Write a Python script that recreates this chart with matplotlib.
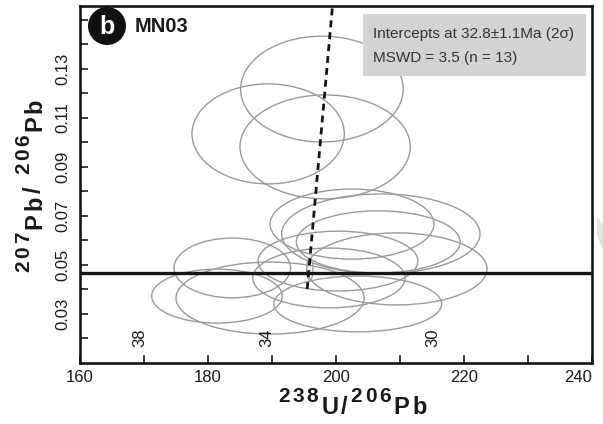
import matplotlib
matplotlib.use('Agg')
import matplotlib.pyplot as plt
from matplotlib import font_manager
from matplotlib.patches import Ellipse, Circle, Rectangle, Polygon

# Error ellipses (centre and 2-sigma half axes)
U238_PB206 = [197.8, 189.4, 198.3, 202.5, 207.0, 206.6, 200.3, 198.9,
              203.4, 209.5, 183.8, 181.4, 189.7]
PB207_PB206 = [0.1218, 0.1035, 0.0982, 0.0667, 0.0627, 0.0594, 0.0516, 0.0447,
               0.0341, 0.0484, 0.0488, 0.0373, 0.0365]
ERR_X = [12.7, 11.9, 13.3, 12.8, 15.5, 12.8, 12.5, 11.9, 13.1, 14.1, 9.1, 10.2, 14.7]
ERR_Y = [0.0216, 0.0204, 0.0212, 0.0143, 0.0163, 0.0127, 0.0122, 0.0122,
         0.0114, 0.0147, 0.0122, 0.0110, 0.0147]

# Concordia age ellipse
AGE_ELLIPSE = (195.9, 0.0482, 0.5, 0.0045)

# Concordia and discordia
CONCORDIA_Y = 0.0468
DISCORDIA_X = [195.5, 199.6]
DISCORDIA_Y = [0.0402, 0.160]

# Age ticks on the concordia (Ma)
AGE_LABELS = ['38', '34', '30']
AGE_X = [169.4, 189.2, 215.2]
AGE_Y = 0.0205

X_TICKS = [160, 180, 200, 220, 240]
Y_TICKS = [0.03, 0.05, 0.07, 0.09, 0.11, 0.13]

names = {f.name for f in font_manager.fontManager.ttflist}
HAS_NARROW = 'Liberation Sans Narrow' in names
NARROW = 'Liberation Sans Narrow' if HAS_NARROW else 'Liberation Sans'

plt.rcParams['font.family'] = ['Liberation Sans', 'DejaVu Sans']


def spaced_label(ax, parts, start, vertical=False, gap=2.0):
    """Lay out (text, size, rise) pieces letter by letter, with tracking."""
    prev = None
    prev_rise = 0
    for text, size, rise in parts:
        for ch in text:
            kw = dict(fontsize=size, fontweight='bold', color='#1a1a1a',
                      annotation_clip=False, textcoords='offset points',
                      rotation=90 if vertical else 0)
            if prev is None:
                off = (-rise, 0) if vertical else (0, rise)
                prev = ax.annotate(ch, xy=start, xycoords='figure pixels',
                                   xytext=off,
                                   ha='right' if vertical else 'left',
                                   va='bottom', **kw)
            elif vertical:
                prev = ax.annotate(ch, xy=(1, 1), xycoords=prev,
                                   xytext=(-(rise - prev_rise), gap),
                                   ha='right', va='bottom', **kw)
            else:
                prev = ax.annotate(ch, xy=(1, 0), xycoords=prev,
                                   xytext=(gap, rise - prev_rise),
                                   ha='left', va='bottom', **kw)
            prev_rise = rise


fig = plt.figure(figsize=(6.03, 4.24), dpi=100)
ax = fig.add_axes([80 / 603, 1 - 363 / 424, 512 / 603, 357 / 424])

for x, y, ex, ey in zip(U238_PB206, PB207_PB206, ERR_X, ERR_Y):
    ax.add_patch(Ellipse((x, y), 2 * ex, 2 * ey, fill=False,
                         edgecolor='#9a9a9a', linewidth=1.0))

cx, cy, cex, cey = AGE_ELLIPSE
ax.add_patch(Ellipse((cx, cy), 2 * cex, 2 * cey, fill=False,
                     edgecolor='#9a9a9a', linewidth=0.9))

ax.axhline(CONCORDIA_Y, color='#151515', linewidth=2.4, zorder=3)
ax.plot(DISCORDIA_X, DISCORDIA_Y, color='#151515', linewidth=2.0,
        linestyle=(0, (2.5, 1.8)), zorder=4)

for label, x in zip(AGE_LABELS, AGE_X):
    ax.text(x, AGE_Y, label, rotation=90, ha='center', va='center',
            fontsize=12, color='#1a1a1a')

ax.set_xlim(160, 240)
ax.set_ylim(0.01, 0.1557)
ax.set_xticks(X_TICKS)
ax.set_xticks([170, 190, 210, 230], minor=True)
ax.set_yticks(Y_TICKS)
ax.set_yticks([0.02, 0.04, 0.06, 0.08, 0.10, 0.12, 0.14, 0.15], minor=True)
ax.set_xticklabels([str(v) for v in X_TICKS])
ax.set_yticklabels([f'{v:.2f}' for v in Y_TICKS], rotation=90, va='center')
ax.tick_params(which='both', direction='in', length=5.5, width=1.2,
               labelsize=12, colors='#1a1a1a')
ax.tick_params(axis='x', pad=5)
ax.tick_params(axis='y', pad=7)
# last x label sits inside the frame edge
ax.get_xticklabels()[-1].set_horizontalalignment('right')
for spine in ax.spines.values():
    spine.set_linewidth(1.9)
    spine.set_color('#151515')

# Results box
ax.add_patch(Rectangle((0.553, 0.804), 0.435, 0.174, transform=ax.transAxes,
                       facecolor='#d3d3d3', edgecolor='none', zorder=5))
box_size = 12.2 if HAS_NARROW else 11
ax.text(0.572, 0.921, 'Intercepts at 32.8\u00b11.1Ma (2\u03c3)',
        transform=ax.transAxes, ha='left', va='center', fontsize=box_size,
        family=[NARROW, 'DejaVu Sans'], color='#333333', zorder=6)
ax.text(0.572, 0.855, 'MSWD = 3.5 (n = 13)',
        transform=ax.transAxes, ha='left', va='center', fontsize=box_size,
        family=[NARROW, 'DejaVu Sans'], color='#333333', zorder=6)

# Panel badge
fig.add_artist(Circle((1.07, 3.98), 0.19, transform=fig.dpi_scale_trans,
                      facecolor='#111111', edgecolor='none', zorder=10))
fig.text(107 / 603, 1 - 27 / 424, 'b', ha='center', va='center',
         fontsize=18, fontweight='bold', color='white', zorder=11)
fig.text(135 / 603, 1 - 26 / 424, 'MN03', ha='left', va='center',
         fontsize=17 if HAS_NARROW else 14.5, fontweight='bold',
         family=[NARROW, 'DejaVu Sans'], color='#1a1a1a', zorder=11)

# Axis titles
spaced_label(ax, [('238', 15, 9.5), ('U/', 17, 0), ('206', 15, 9.5),
                  ('Pb', 17, 0)], (278, 424 - 419))
spaced_label(ax, [('207', 15, 9.5), ('Pb/ ', 17, 0), ('206', 15, 9.5),
                  ('Pb', 17, 0)], (46, 424 - 272), vertical=True)

# faint page mark at the right edge
fig.add_artist(Polygon([(5.97, 2.07), (6.03, 1.99), (6.03, 1.74), (5.97, 1.89)],
                       closed=True, transform=fig.dpi_scale_trans,
                       facecolor='#e2e2e2', edgecolor='none'))

fig.savefig('out.png', dpi=100)
